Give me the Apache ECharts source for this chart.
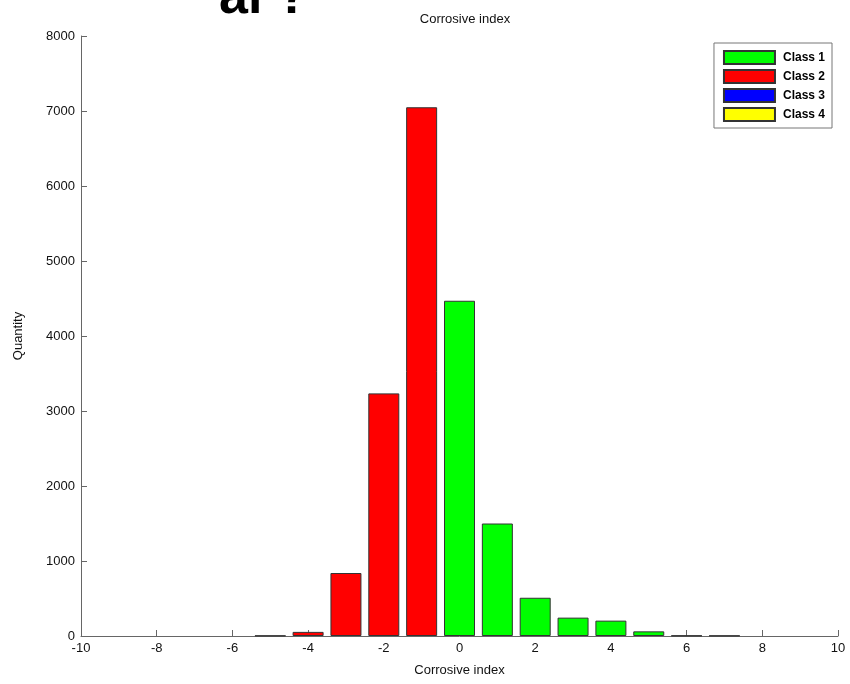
<!DOCTYPE html>
<html>
<head>
<meta charset="utf-8">
<script src="https://cdn.jsdelivr.net/npm/echarts@6/dist/echarts.min.js"></script>
<style>
html,body{margin:0;padding:0;background:#fff;}
#chart{width:850px;height:684px;}
</style>
</head>
<body>
<div id="chart"></div>
<script>
// Histogram of corrosive index, split by class
const binCenters = [-5, -4, -3, -2, -1, 0, 1, 2, 3, 4, 5, 6, 7];
const class1Counts = [0, 0, 0, 0, 0, 4470, 1500, 510, 245, 205, 62, 6, 5];
const class2Counts = [5, 55, 840, 3235, 7050, 0, 0, 0, 0, 0, 0, 0, 0];
const class3Counts = [];
const class4Counts = [];
const classNames = ['Class 1', 'Class 2', 'Class 3', 'Class 4'];
const classColors = ['#00ff00', '#ff0000', '#0000ff', '#ffff00'];

const font = 'Liberation Sans, Arial, sans-serif';
const pairs = arr => binCenters.map((x, i) => [x, arr[i] || 0]).filter(p => p[1] > 0);
const seriesData = [pairs(class1Counts), pairs(class2Counts), class3Counts, class4Counts];

const chart = echarts.init(document.getElementById('chart'));
chart.setOption({
  animation: false,
  backgroundColor: '#fff',
  title: {
    text: 'Corrosive index',
    left: 460, top: 8, textAlign: 'center',
    textStyle: {fontFamily: font, fontSize: 13, fontWeight: 'normal', color: '#111'}
  },
  graphic: [{
    type: 'text', left: 219, top: -27,
    style: {text: 'al ?', font: 'bold 52px ' + font, fill: '#000'}
  }],
  legend: {
    orient: 'vertical', right: 18, top: 43,
    data: classNames,
    itemWidth: 51, itemHeight: 13, itemGap: 4,
    padding: [7, 7, 6, 9],
    backgroundColor: '#fff', borderColor: '#777', borderWidth: 1,
    textStyle: {fontFamily: font, fontSize: 12, fontWeight: 'bold', color: '#000', padding: [0, 0, 0, 3], lineHeight: 14},
    icon: 'rect'
  },
  grid: {left: 81, right: 12, top: 36, bottom: 48},
  xAxis: {
    type: 'value', min: -10, max: 10, interval: 2,
    name: 'Corrosive index', nameLocation: 'middle', nameGap: 28,
    nameTextStyle: {fontFamily: font, fontSize: 13, color: '#111'},
    axisLine: {onZero: false, lineStyle: {color: '#666'}},
    axisTick: {inside: true, length: 6, lineStyle: {color: '#666'}},
    axisLabel: {fontFamily: font, fontSize: 13, color: '#111', margin: 6},
    splitLine: {show: false}
  },
  yAxis: {
    type: 'value', min: 0, max: 8000, interval: 1000,
    name: 'Quantity', nameLocation: 'middle', nameGap: 56,
    nameTextStyle: {fontFamily: font, fontSize: 13, color: '#111'},
    axisLine: {show: true, onZero: false, lineStyle: {color: '#666'}},
    axisTick: {show: true, inside: true, length: 6, lineStyle: {color: '#666'}},
    axisLabel: {fontFamily: font, fontSize: 13, color: '#111', margin: 6, formatter: v => String(v)},
    splitLine: {show: false}
  },
  series: classNames.map((name, i) => ({
    name: name, type: 'bar', stack: 'hist',
    barWidth: 31,
    data: seriesData[i],
    itemStyle: {color: classColors[i], borderColor: '#333', borderWidth: 1}
  }))
});
</script>
</body>
</html>
